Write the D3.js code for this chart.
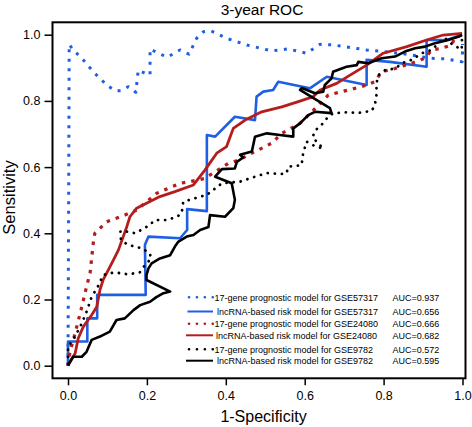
<!DOCTYPE html>
<html>
<head>
<meta charset="utf-8">
<script src="https://cdn.jsdelivr.net/npm/d3@7"></script>
<style>
  html, body { margin: 0; padding: 0; background: #fff; }
  svg { display: block; font-family: "Liberation Sans", Arial, sans-serif; }
</style>
</head>
<body>
<svg id="chart" width="472" height="427"></svg>
<script>
// ---------------- data ----------------
const title = "3-year ROC";
const xLabel = "1-Specificity";
const yLabel = "Sensitivity";
const tickValues = [0.0, 0.2, 0.4, 0.6, 0.8, 1.0];

// 17-gene prognostic model, GSE57317 (blue dotted)
const geneGSE57317_x = [0,0.002,0.003,0.013,0.035,0.064,0.098,0.119,0.134,0.153,0.172,0.178,0.193,0.208,0.208,0.229,0.252,0.284,0.307,0.326,0.343,0.362,0.402,0.453,0.516,0.558,0.605,0.639,0.672,0.757,0.842,0.918,0.958,0.999,1.0,1.0];
const geneGSE57317_y = [0,0.60,0.971,0.954,0.929,0.888,0.848,0.831,0.831,0.843,0.826,0.893,0.885,0.878,0.957,0.944,0.932,0.954,0.941,0.989,1.009,1.012,0.989,0.969,0.951,0.957,0.944,0.971,0.969,0.954,0.944,0.929,0.927,0.918,0.948,0.972];

// lncRNA-based risk model, GSE57317 (blue solid)
const lncGSE57317_x = [0,0,0.049,0.049,0.074,0.074,0.197,0.195,0.204,0.284,0.302,0.302,0.352,0.352,0.373,0.423,0.474,0.478,0.495,0.520,0.533,0.613,0.656,0.757,0.757,0.816,0.909,0.909,0.960,0.999];
const lncGSE57317_y = [0,0.073,0.073,0.143,0.143,0.214,0.214,0.365,0.390,0.385,0.410,0.473,0.467,0.697,0.692,0.752,0.742,0.813,0.828,0.833,0.858,0.838,0.873,0.848,0.924,0.918,0.903,0.984,0.984,1.0];

// 17-gene prognostic model, GSE24080 (red dotted)
const geneGSE24080_x = [0,0.005,0.018,0.035,0.047,0.056,0.064,0.068,0.098,0.144,0.174,0.225,0.284,0.309,0.347,0.406,0.432,0.466,0.516,0.542,0.588,0.618,0.660,0.711,0.745,0.778,0.795,0.829,0.871,0.905,0.922,0.947,0.973,0.981,0.999];
const geneGSE24080_y = [0,0.042,0.098,0.178,0.239,0.280,0.370,0.400,0.435,0.455,0.470,0.521,0.551,0.556,0.566,0.611,0.621,0.642,0.672,0.702,0.732,0.767,0.818,0.833,0.843,0.858,0.888,0.898,0.914,0.929,0.954,0.959,0.969,0.994,0.999];

// lncRNA-based risk model, GSE24080 (red solid)
const lncGSE24080_x = [0,0.003,0.018,0.026,0.039,0.060,0.073,0.081,0.089,0.102,0.115,0.128,0.140,0.149,0.157,0.174,0.199,0.233,0.271,0.318,0.347,0.377,0.402,0.419,0.449,0.491,0.542,0.584,0.622,0.639,0.681,0.715,0.757,0.799,0.859,0.909,0.951,0.999];
const lncGSE24080_y = [0,0.008,0.037,0.083,0.118,0.153,0.178,0.229,0.259,0.289,0.319,0.350,0.390,0.420,0.450,0.476,0.491,0.511,0.526,0.546,0.591,0.642,0.662,0.717,0.742,0.767,0.782,0.798,0.813,0.833,0.853,0.878,0.908,0.944,0.964,0.984,0.999,1.004];

// 17-gene prognostic model, GSE9782 (black dotted)
const geneGSE9782_x = [0,0,0.018,0.035,0.047,0.060,0.074,0.089,0.118,0.152,0.182,0.195,0.211,0.207,0.186,0.152,0.134,0.133,0.152,0.170,0.190,0.207,0.220,0.250,0.276,0.288,0.292,0.322,0.352,0.390,0.436,0.461,0.504,0.537,0.554,0.558,0.592,0.596,0.605,0.626,0.647,0.620,0.626,0.643,0.656,0.672,0.711,0.732,0.770,0.778,0.782,0.782,0.787,0.804,0.829,0.854,0.871,0.897,0.922,0.947,0.956,0.976,0.998,0.999];
const geneGSE9782_y = [0.005,0.057,0.088,0.128,0.163,0.208,0.235,0.274,0.282,0.276,0.282,0.304,0.324,0.340,0.355,0.365,0.380,0.407,0.405,0.400,0.413,0.425,0.440,0.440,0.450,0.460,0.495,0.506,0.516,0.551,0.556,0.566,0.582,0.579,0.581,0.601,0.606,0.642,0.677,0.663,0.656,0.690,0.710,0.728,0.747,0.763,0.766,0.763,0.770,0.788,0.818,0.853,0.878,0.893,0.898,0.918,0.924,0.944,0.954,0.984,0.989,0.969,0.955,0.999];

// lncRNA-based risk model, GSE9782 (black solid)
const lncGSE9782_x = [0,0.013,0.035,0.047,0.060,0.081,0.106,0.123,0.144,0.166,0.183,0.208,0.225,0.242,0.259,0.199,0.199,0.204,0.212,0.233,0.259,0.271,0.280,0.301,0.318,0.335,0.356,0.360,0.398,0.419,0.423,0.415,0.373,0.390,0.423,0.428,0.444,0.436,0.466,0.474,0.504,0.537,0.571,0.571,0.588,0.609,0.626,0.668,0.664,0.588,0.593,0.626,0.647,0.651,0.668,0.672,0.694,0.706,0.732,0.736,0.761,0.795,0.829,0.854,0.880,0.905,0.930,0.964,0.989,0.999];
const lncGSE9782_y = [0,0.027,0.027,0.042,0.078,0.088,0.103,0.138,0.143,0.168,0.183,0.193,0.208,0.219,0.224,0.259,0.274,0.294,0.309,0.324,0.334,0.360,0.375,0.390,0.395,0.410,0.419,0.455,0.450,0.476,0.501,0.551,0.571,0.594,0.596,0.616,0.629,0.637,0.647,0.692,0.702,0.697,0.692,0.717,0.732,0.757,0.767,0.763,0.778,0.833,0.839,0.823,0.828,0.848,0.868,0.888,0.898,0.903,0.908,0.918,0.914,0.929,0.934,0.949,0.959,0.964,0.974,0.984,0.994,0.999];

const legendLabels = [
  "17-gene prognostic model for GSE57317",
  "lncRNA-based risk model for GSE57317",
  "17-gene prognostic model for GSE24080",
  "lncRNA-based risk model for GSE24080",
  "17-gene prognostic model for GSE9782",
  "lncRNA-based risk model for GSE9782"
];
const aucValues = ["0.937", "0.656", "0.666", "0.682", "0.572", "0.595"];

// ---------------- styles ----------------
const BLUE = "#1f5fe3", RED = "#b71c1c", BLACK = "#000000";
const styles = [
  {color: BLUE,  width: 3,   dash: "3,6.5", cap: "butt"},
  {color: BLUE,  width: 2.6, dash: null,    cap: "butt"},
  {color: RED,   width: 3.2, dash: "3.5,6", cap: "butt"},
  {color: RED,   width: 2.8, dash: null,    cap: "butt"},
  {color: BLACK, width: 2.8, dash: "0.1,7", cap: "round"},
  {color: BLACK, width: 2.6, dash: null,    cap: "butt"}
];
const seriesX = [geneGSE57317_x, lncGSE57317_x, geneGSE24080_x, lncGSE24080_x, geneGSE9782_x, lncGSE9782_x];
const seriesY = [geneGSE57317_y, lncGSE57317_y, geneGSE24080_y, lncGSE24080_y, geneGSE9782_y, lncGSE9782_y];

// ---------------- chart ----------------
const svg = d3.select("#chart");
const frame = {left: 52.5, right: 465.5, top: 22.3, bottom: 378.3};
const x = d3.scaleLinear().domain([0, 1]).range([68, 462.5]);
const y = d3.scaleLinear().domain([0, 1]).range([365.7, 34.7]);

// curves
const line = d3.line().x(d => x(d[0])).y(d => y(d[1]));
const drawOrder = [0, 1, 2, 3, 4, 5];
drawOrder.forEach(i => {
  const pts = seriesX[i].map((v, k) => [v, seriesY[i][k]]);
  svg.append("path")
    .attr("d", line(pts))
    .attr("fill", "none")
    .attr("stroke", styles[i].color)
    .attr("stroke-width", styles[i].width)
    .attr("stroke-linejoin", "round")
    .attr("stroke-linecap", styles[i].cap)
    .attr("stroke-dasharray", styles[i].dash);
});

// frame box
svg.append("rect")
  .attr("x", frame.left).attr("y", frame.top)
  .attr("width", frame.right - frame.left)
  .attr("height", frame.bottom - frame.top)
  .attr("fill", "none").attr("stroke", "#000").attr("stroke-width", 2);

// axes
const xAxis = svg.append("g")
  .attr("transform", `translate(0,${frame.bottom})`)
  .call(d3.axisBottom(x).tickValues(tickValues).tickFormat(d3.format(".1f")).tickSize(7).tickPadding(6));
const yAxis = svg.append("g")
  .attr("transform", `translate(${frame.left},0)`)
  .call(d3.axisLeft(y).tickValues(tickValues).tickFormat(d3.format(".1f")).tickSize(8).tickPadding(4));
[xAxis, yAxis].forEach(g => {
  g.select(".domain").remove();
  g.selectAll(".tick line").attr("stroke", "#000").attr("stroke-width", 1.5);
  g.selectAll(".tick text").attr("fill", "#000")
    .style("font-family", "'Liberation Sans', Arial, sans-serif").style("font-size", "12.5px");
});

// title & axis labels
svg.append("text").attr("x", 262).attr("y", 15)
  .attr("text-anchor", "middle").style("font-size", "15.5px").attr("fill", "#000").text(title);
svg.append("text").attr("x", 263.5).attr("y", 421.5)
  .attr("text-anchor", "middle").style("font-size", "16px").attr("fill", "#000").text(xLabel);
svg.append("text").attr("transform", "translate(15,197.5) rotate(-90)")
  .attr("text-anchor", "middle").style("font-size", "16.5px").attr("fill", "#000").text(yLabel);

// legend
const legendY = [297.3, 311.5, 323.8, 335.3, 349.3, 360.7];
const legendTextX = [214.5, 217, 214.5, 216, 214.5, 217];
const legendLineX0 = [189, 187.5, 189, 186, 189, 186];
const lg = svg.append("g");
legendLabels.forEach((lab, i) => {
  const s = styles[i];
  lg.append("line")
    .attr("x1", legendLineX0[i]).attr("x2", 213)
    .attr("y1", legendY[i]).attr("y2", legendY[i])
    .attr("stroke", s.color)
    .attr("stroke-width", s.dash ? 2.6 : 2)
    .attr("stroke-linecap", s.dash ? "round" : "butt")
    .attr("stroke-dasharray", s.dash ? "0.1,7.8" : null);
  lg.append("text")
    .attr("x", legendTextX[i]).attr("y", legendY[i] + 3.3)
    .style("font-size", "9px").attr("fill", "#000").text(lab);
  lg.append("text")
    .attr("x", 392.5).attr("y", legendY[i] + 3.3)
    .style("font-size", "9px").attr("fill", "#000").text("AUC=" + aucValues[i]);
});
</script>
</body>
</html>
